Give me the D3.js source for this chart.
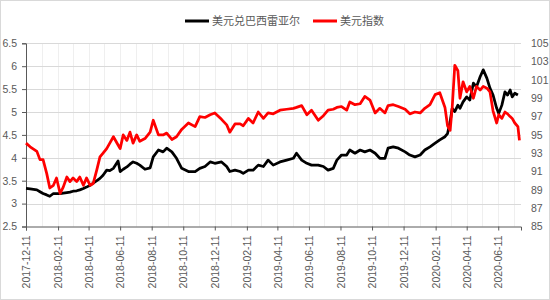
<!DOCTYPE html>
<html>
<head>
<meta charset="utf-8">
<script src="https://cdn.jsdelivr.net/npm/d3@7"></script>
<style>
  body { margin: 0; background: #fff; }
  svg text { font-family: "Liberation Sans", Arial, sans-serif; fill: #595959; }
  .legend text { font-family: "Noto Sans CJK SC", sans-serif; }
</style>
</head>
<body>
<svg id="chart" width="550" height="300"></svg>
<script>
// values
var dates = [
  "2017-12-11","2017-12-19","2018-01-01","2018-01-07","2018-01-13","2018-01-20","2018-01-26","2018-02-02",
  "2018-02-08","2018-02-15","2018-02-21","2018-02-28","2018-03-06","2018-03-12","2018-03-19","2018-03-25",
  "2018-04-01","2018-04-07","2018-04-14","2018-04-20","2018-04-27","2018-05-03","2018-05-09","2018-05-16",
  "2018-05-22","2018-05-29","2018-06-07","2018-06-11","2018-06-17","2018-06-24","2018-06-30","2018-07-06",
  "2018-07-13","2018-07-19","2018-07-29","2018-08-08","2018-08-14","2018-08-24","2018-09-02","2018-09-09",
  "2018-09-19","2018-09-28","2018-10-08","2018-10-21","2018-11-03","2018-11-12","2018-11-22","2018-12-02",
  "2018-12-11","2018-12-24","2019-01-03","2019-01-09","2019-01-19","2019-01-29","2019-02-04","2019-02-14",
  "2019-02-23","2019-03-05","2019-03-15","2019-03-24","2019-04-03","2019-04-16","2019-04-29","2019-05-12",
  "2019-05-18","2019-05-28","2019-06-07","2019-06-16","2019-06-29","2019-07-09","2019-07-18","2019-07-28",
  "2019-08-04","2019-08-13","2019-08-23","2019-08-29","2019-09-08","2019-09-18","2019-09-27","2019-10-07",
  "2019-10-17","2019-10-26","2019-11-05","2019-11-11","2019-11-21","2019-12-01","2019-12-14","2019-12-23",
  "2020-01-02","2020-01-12","2020-01-21","2020-01-31","2020-02-10","2020-02-19","2020-02-29","2020-03-05",
  "2020-03-10","2020-03-14","2020-03-19","2020-03-25","2020-03-29","2020-04-04","2020-04-11","2020-04-17",
  "2020-04-24","2020-04-30","2020-05-07","2020-05-13","2020-05-20","2020-05-26","2020-06-01","2020-06-08",
  "2020-06-12","2020-06-18","2020-06-24","2020-06-29","2020-07-04","2020-07-08","2020-07-13","2020-07-19",
  "2020-07-22"
];
var brl = [
  3.33,3.32,3.30,3.26,3.22,3.19,3.16,3.22, 3.22,3.22,3.23,3.24,3.25,3.27,3.28,3.30,
  3.33,3.36,3.40,3.45,3.50,3.55,3.62,3.73, 3.72,3.77,3.93,3.70,3.75,3.80,3.86,3.91,
  3.88,3.84,3.75,3.78,4.02,4.17,4.13,4.21, 4.13,3.99,3.77,3.70,3.70,3.77,3.81,3.91,
  3.88,3.91,3.81,3.70,3.73,3.70,3.66,3.73, 3.73,3.84,3.81,3.95,3.84,3.91,3.95,3.99,
  4.10,3.95,3.88,3.84,3.84,3.81,3.73,3.77, 3.95,4.06,4.06,4.17,4.10,4.17,4.13,4.17,
  4.10,3.99,3.99,4.21,4.24,4.21,4.13,4.06, 4.02,4.06,4.17,4.24,4.32,4.39,4.46,4.53,
  4.79,5.08,5.01,5.15,5.08,5.22,5.33,5.26, 5.63,5.55,5.77,5.92,5.74,5.52,5.37,5.08,
  4.97,5.15,5.44,5.37,5.48,5.33,5.41,5.37, null
];
var dxy = [
  94.1,93.7,93.2,92.3,92.3,90.8,89.2,89.5, 90.3,88.6,89.3,90.4,89.9,90.3,89.9,90.4,
  89.5,90.3,89.5,89.7,91.2,92.6,93.0,93.5, 94.1,94.8,93.9,93.5,95.0,94.4,95.3,94.1,
  95.0,94.3,94.6,95.3,96.6,95.0,95.0,95.2, 94.5,94.8,95.6,96.3,95.9,97.0,96.9,97.2,
  97.4,96.7,96.1,95.3,96.2,96.2,96.0,96.8, 96.3,97.5,96.8,97.4,97.3,97.7,97.8,97.9,
  98.0,98.2,97.2,97.7,96.6,97.1,97.7,97.8, 98.0,98.1,97.7,98.6,98.3,98.4,99.2,98.8,
  97.4,97.9,97.4,98.2,98.3,98.1,97.8,97.3, 97.5,97.4,97.9,98.3,99.4,99.6,98.0,96.0,
  95.5,98.0,102.6,102.0,99.0,100.8,99.7,100.3, 99.0,100.3,99.9,100.3,100.1,99.7,97.6,96.3,
  97.2,96.8,97.5,97.3,97.0,96.8,96.3,95.9, 94.4
];
var leftTicks = [2.5, 3, 3.5, 4, 4.5, 5, 5.5, 6, 6.5];
var rightTicks = [85, 87, 89, 91, 93, 95, 97, 99, 101, 103, 105];
var tickDates = ["2017-12-11","2018-02-11","2018-04-11","2018-06-11","2018-08-11","2018-10-11",
  "2018-12-11","2019-02-11","2019-04-11","2019-06-11","2019-08-11","2019-10-11",
  "2019-12-11","2020-02-11","2020-04-11","2020-06-11"];
var seriesNames = ["美元兑巴西雷亚尔", "美元指数"];
var seriesColors = ["#000000", "#ff0000"];

var parse = d3.timeParse("%Y-%m-%d");
var fmt = d3.timeFormat("%Y-%m-%d");

var svg = d3.select("#chart");
var plotLeft = 26, plotRight = 521, plotTop = 43.3, plotBottom = 226.5;

svg.append("rect")
  .attr("x", 0.5).attr("y", 0.5).attr("width", 549).attr("height", 299)
  .attr("fill", "#fff").attr("stroke", "#d9d9d9");

var x = d3.scaleTime()
  .domain([parse("2017-12-11"), parse("2020-07-25")])
  .range([plotLeft, plotRight]);
var yL = d3.scaleLinear().domain([2.5, 6.5]).range([plotBottom, plotTop]);
var yR = d3.scaleLinear().domain([85, 105]).range([plotBottom, plotTop]);

// monthly light vertical grid
var gridDates = d3.timeMonth.range(new Date(2017, 11, 1), new Date(2020, 7, 1))
  .map(function(d) { return new Date(d.getFullYear(), d.getMonth(), 11); })
  .filter(function(d) { return x(d) > plotLeft + 1 && x(d) <= plotRight; });
svg.append("g").selectAll("line").data(gridDates).enter().append("line")
  .attr("x1", function(d) { return Math.round(x(d)) + 0.5; })
  .attr("x2", function(d) { return Math.round(x(d)) + 0.5; })
  .attr("y1", plotTop).attr("y2", plotBottom)
  .attr("stroke", "#efefef");

// horizontal grid
svg.append("g").selectAll("line").data(leftTicks.slice(1)).enter().append("line")
  .attr("x1", plotLeft).attr("x2", plotRight)
  .attr("y1", function(d) { return Math.round(yL(d)) + 0.5; })
  .attr("y2", function(d) { return Math.round(yL(d)) + 0.5; })
  .attr("stroke", "#d9d9d9");

// left axis
var gL = svg.append("g")
  .attr("transform", "translate(" + plotLeft + ",0)")
  .call(d3.axisLeft(yL).tickValues(leftTicks).tickSize(4).tickPadding(5)
    .tickFormat(function(d) { return String(d); }));
gL.selectAll("path, line").attr("stroke", "#595959");
gL.selectAll("text").attr("font-size", "10.5px").attr("fill", "#595959")
  .style("font-family", "'Liberation Sans', Arial, sans-serif");

// right axis, labels only
var gR = svg.append("g")
  .attr("transform", "translate(" + plotRight + ",0)")
  .call(d3.axisRight(yR).tickValues(rightTicks).tickSize(0).tickPadding(10));
gR.select(".domain").remove();
gR.selectAll("text").attr("font-size", "10.5px").attr("fill", "#595959")
  .style("font-family", "'Liberation Sans', Arial, sans-serif");

// bottom axis
var gB = svg.append("g")
  .attr("transform", "translate(0," + plotBottom + ")")
  .call(d3.axisBottom(x).tickValues(tickDates.map(parse)).tickSize(4).tickFormat(fmt));
gB.selectAll("path, line").attr("stroke", "#595959");
gB.selectAll("text")
  .attr("font-size", "10.5px").attr("fill", "#595959")
  .style("font-family", "'Liberation Sans', Arial, sans-serif")
  .attr("text-anchor", "end")
  .attr("transform", "rotate(-90)")
  .attr("x", -9).attr("y", 0).attr("dy", "0.35em");

// lines
var rows = dates.map(function(d, i) { return { date: parse(d), brl: brl[i], dxy: dxy[i] }; });

var lineL = d3.line()
  .defined(function(d) { return d.brl != null; })
  .x(function(d) { return x(d.date); })
  .y(function(d) { return yL(d.brl); });
var lineR = d3.line()
  .defined(function(d) { return d.dxy != null; })
  .x(function(d) { return x(d.date); })
  .y(function(d) { return yR(d.dxy); });

svg.append("path").datum(rows)
  .attr("d", lineL).attr("fill", "none")
  .attr("stroke", seriesColors[0]).attr("stroke-width", 2.75)
  .attr("stroke-linejoin", "round");
svg.append("path").datum(rows)
  .attr("d", lineR).attr("fill", "none")
  .attr("stroke", seriesColors[1]).attr("stroke-width", 2.75)
  .attr("stroke-linejoin", "round");

// legend
var legend = svg.append("g").attr("class", "legend");
var legendX = [185, 313];
seriesNames.forEach(function(name, i) {
  legend.append("line")
    .attr("x1", legendX[i]).attr("x2", legendX[i] + 24)
    .attr("y1", 21).attr("y2", 21)
    .attr("stroke", seriesColors[i]).attr("stroke-width", 3);
  legend.append("text")
    .attr("x", legendX[i] + 27).attr("y", 21).attr("dy", "0.35em")
    .attr("font-size", "11px")
    .text(name);
});
</script>
</body>
</html>
